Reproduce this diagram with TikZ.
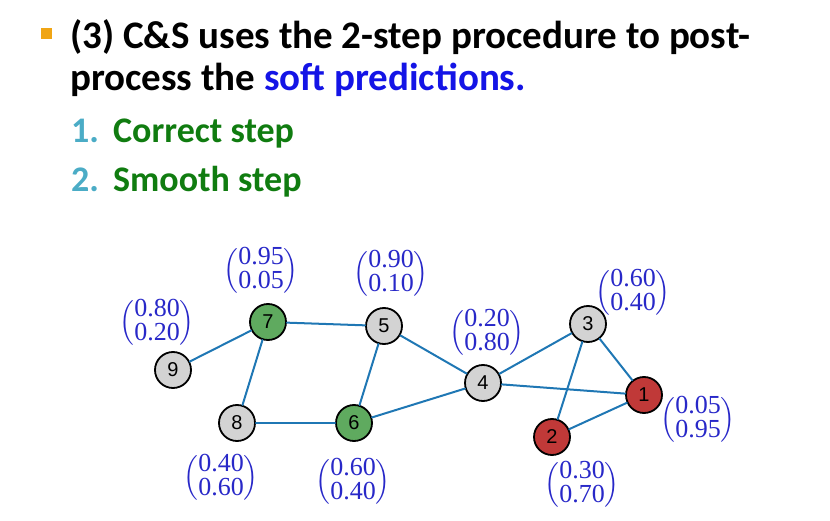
\documentclass[tikz,border=0pt]{standalone}
\usepackage{amsmath}
\usepackage{fontspec}
\setmainfont{Carlito}
\newfontfamily\vecfont{Liberation Serif}
\newfontfamily\numfont{Liberation Sans}
\usepackage{tikz}

\definecolor{bulletorange}{RGB}{240,165,20}
\definecolor{numteal}{RGB}{75,172,198}
\definecolor{stepgreen}{RGB}{16,124,16}
\definecolor{softblue}{RGB}{20,20,230}
\definecolor{labelblue}{RGB}{40,40,200}
\definecolor{edgeblue}{RGB}{31,119,180}
\definecolor{nodegray}{RGB}{211,211,211}
\definecolor{nodegreen}{RGB}{95,170,95}
\definecolor{nodered}{RGB}{192,57,56}

\newcommand{\probvec}[2]{$\renewcommand{\arraystretch}{0.72}\begin{pmatrix}\text{#1}\\\text{#2}\end{pmatrix}$}

\begin{document}
\begin{tikzpicture}[
			x=1pt, y=-1pt,
			line cap=round,
			line join=round,
			vertex/.style={circle, draw=black, line width=1.8pt, minimum size=36pt, inner sep=0pt, font=\fontsize{20}{22}\selectfont\numfont},
			grayvertex/.style={vertex, fill=nodegray},
			greenvertex/.style={vertex, fill=nodegreen},
			redvertex/.style={vertex, fill=nodered},
			link/.style={draw=edgeblue, line width=2pt},
			probs/.style={text=labelblue, inner sep=0pt, font=\fontsize{26}{30}\selectfont\vecfont},
			title/.style={anchor=base west, inner sep=0pt, font=\fontsize{39}{44}\selectfont\bfseries},
			item/.style={anchor=base west, inner sep=0pt, font=\fontsize{36}{42}\selectfont\bfseries}
			]
			\useasboundingbox (0,0) rectangle (830,521);
			
			% Heading
			\fill[bulletorange] (41,28) rectangle (52,39);
			\node[title] (line1) at (70,49) {(3) C\&S uses the 2-step procedure to post-};
			\node[title] (line2) at (70,91) {process the \textcolor{softblue}{soft predictions.}};
			
			% Steps
			\node[item, text=numteal] (n1) at (71,143) {1.};
			\node[item, text=stepgreen] (s1) at (113,143) {Correct step};
			\node[item, text=numteal] (n2) at (71,192) {2.};
			\node[item, text=stepgreen] (s2) at (113,192) {Smooth step};
			
			% Graph nodes
			\node[redvertex] (v1) at (644,395) {1};
			\node[redvertex] (v2) at (552,437) {2};
			\node[grayvertex] (v3) at (588,324) {3};
			\node[grayvertex] (v4) at (483,383) {4};
			\node[grayvertex] (v5) at (384,326) {5};
			\node[greenvertex] (v6) at (354,423) {6};
			\node[greenvertex] (v7) at (268,322) {7};
			\node[grayvertex] (v8) at (237,423) {8};
			\node[grayvertex] (v9) at (173,370) {9};
			
			% Edges
			\foreach \a/\b in {9/7, 7/5, 7/8, 8/6, 5/6, 5/4, 6/4, 4/3, 4/1, 3/2, 3/1, 2/1}
			\draw[link] (v\a) -- (v\b);
			
			% Soft predictions
			\node[probs] (p1) at (698,420) {\probvec{0.05}{0.95}};
			\node[probs] (p2) at (582,485) {\probvec{0.30}{0.70}};
			\node[probs] (p3) at (633,293) {\probvec{0.60}{0.40}};
			\node[probs] (p4) at (487,333) {\probvec{0.20}{0.80}};
			\node[probs] (p5) at (391,274) {\probvec{0.90}{0.10}};
			\node[probs] (p6) at (353,482) {\probvec{0.60}{0.40}};
			\node[probs] (p7) at (261,271) {\probvec{0.95}{0.05}};
			\node[probs] (p8) at (221,478) {\probvec{0.40}{0.60}};
			\node[probs] (p9) at (157,323) {\probvec{0.80}{0.20}};
		\end{tikzpicture}
\end{document}
